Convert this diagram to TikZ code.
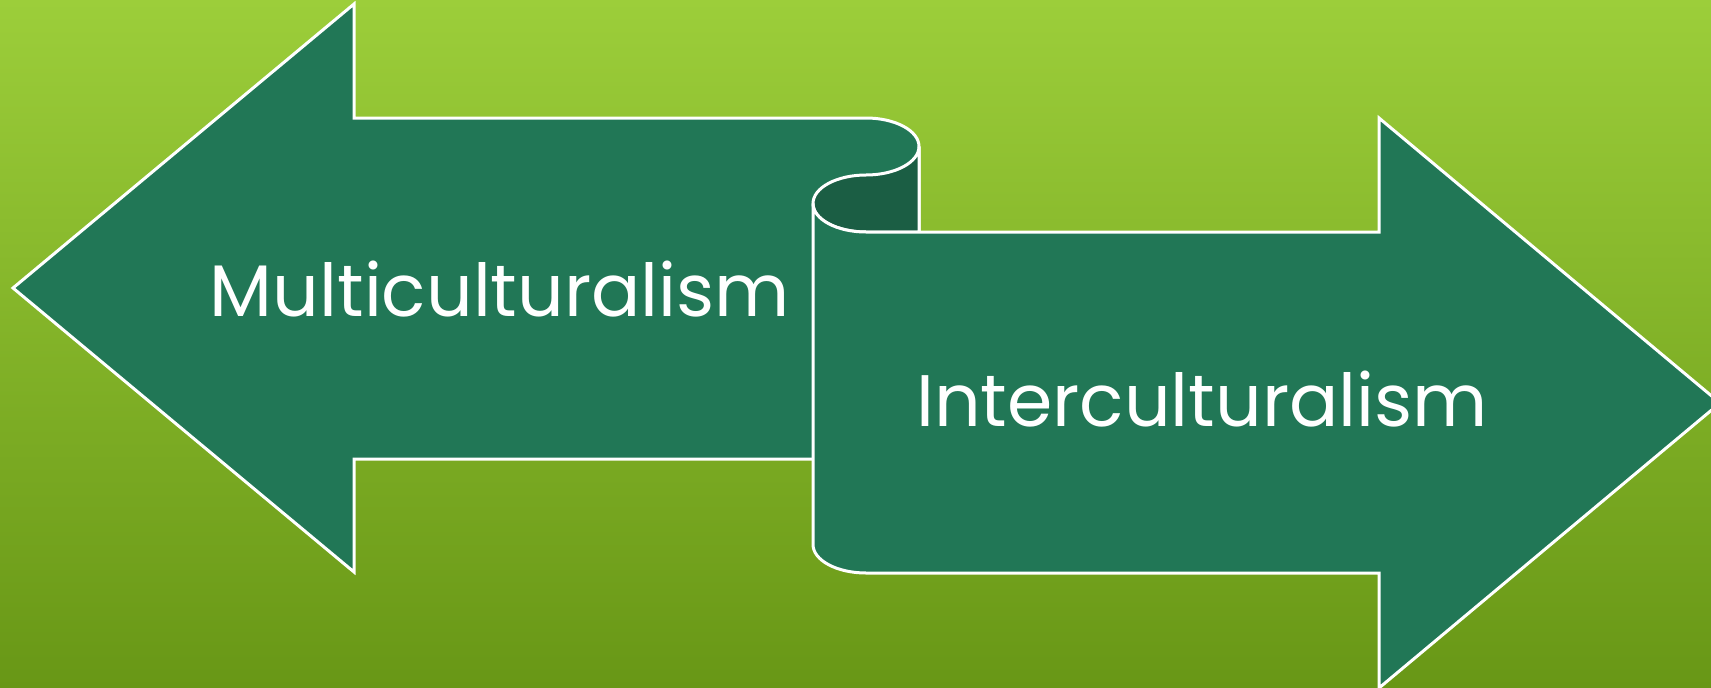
\documentclass[tikz,border=0pt]{standalone}
\usepackage{fontspec}
\setmainfont{Poppins}

\definecolor{leaftop}{RGB}{156,206,58}
\definecolor{leafbottom}{RGB}{104,151,22}
\definecolor{bandgreen}{RGB}{33,119,86}
\definecolor{banddark}{RGB}{27,94,68}

\tikzset{
  backdrop/.style={top color=leaftop,bottom color=leafbottom},
  arrowbody/.style={fill=bandgreen,draw=white,line width=3pt,line join=miter},
  curl/.style={fill=banddark,draw=white,line width=3pt},
  wordtext/.style={text=white,inner sep=0pt,anchor=base,font=\fontsize{73}{88}\selectfont}
}

\begin{document}
\begin{tikzpicture}[x=1pt,y=-1pt]
      \useasboundingbox (0,0) rectangle (1711,688);
      \clip (0,0) rectangle (1711,688);
      \shade [backdrop] (0,0) rectangle (1711,688);

      % left arrow, top of the scroll
      \draw [arrowbody] (13,288) -- (354,4) -- (354,118) -- (866,118)
        arc [start angle=-90,end angle=0,x radius=53,y radius=28.5]
        -- (919,459) -- (354,459) -- (354,572) -- cycle;

      % back of the scroll
      \draw [curl] (919,146.5)
        arc [start angle=0,end angle=90,x radius=53,y radius=28.5]
        arc [start angle=-90,end angle=-180,x radius=53,y radius=28.5]
        arc [start angle=180,end angle=90,x radius=53,y radius=28.5]
        -- (919,232) -- cycle;

      % right arrow
      \draw [arrowbody] (866,232)
        arc [start angle=90,end angle=180,x radius=53,y radius=28.5]
        -- (813,544.5)
        arc [start angle=180,end angle=90,x radius=53,y radius=28.5]
        -- (1379,573) -- (1379,688) -- (1720,403) -- (1379,118)
        -- (1379,232) -- cycle;

      \node [wordtext] (multi) at (500,316) {Multiculturalism};
      \node [wordtext] (inter) at (1202,426) {Interculturalism};
    \end{tikzpicture}
\end{document}
